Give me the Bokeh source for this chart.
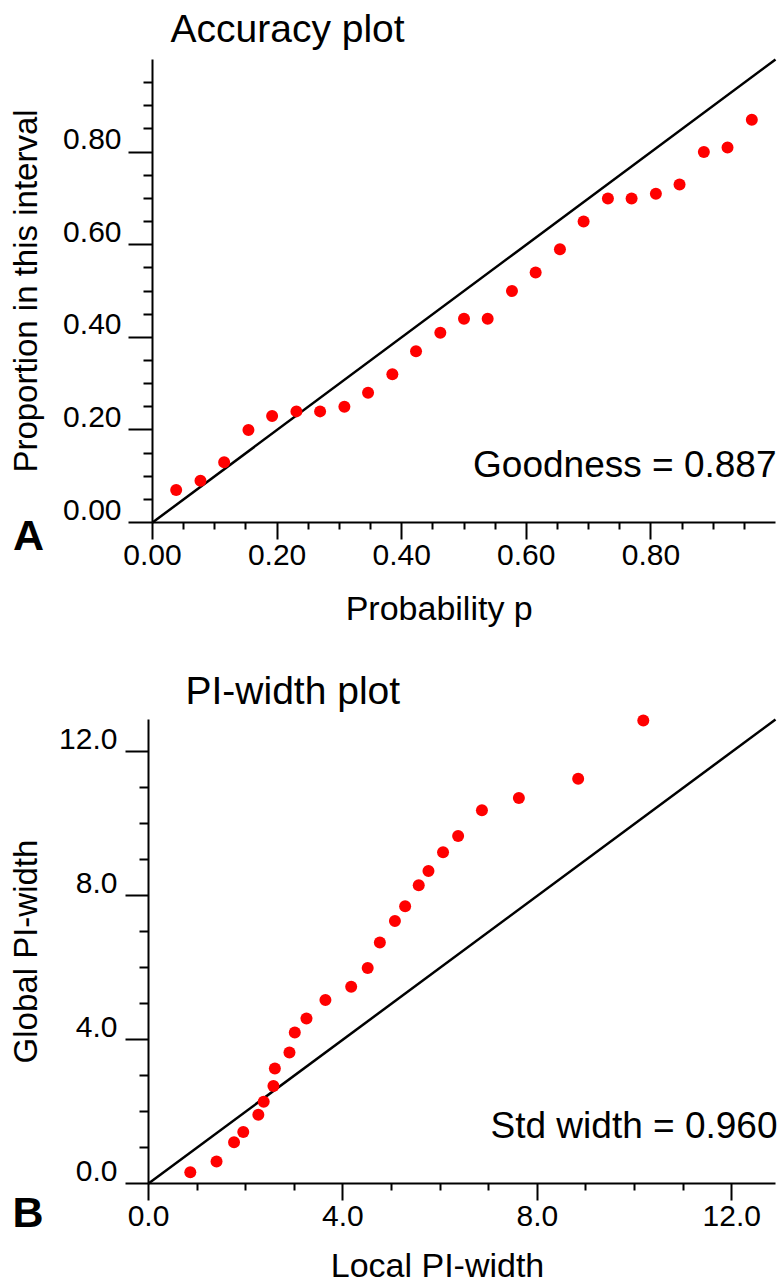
import math
from bokeh.plotting import figure
from bokeh.layouts import column
from bokeh.models import (Range1d, FixedTicker, NumeralTickFormatter, Label, LinearAxis,
                          LabelSet, ColumnDataSource, CustomJSTickFormatter)
from bokeh.core.properties import value
from bokeh.embed import file_html
from bokeh.resources import INLINE

FONT = "Liberation Sans"

# ---------------- Panel A : Accuracy plot ----------------
prob_p = [0.038, 0.077, 0.115, 0.154, 0.192, 0.231, 0.269, 0.308, 0.346, 0.385,
          0.423, 0.462, 0.500, 0.538, 0.577, 0.615, 0.654, 0.692, 0.731, 0.769,
          0.808, 0.846, 0.885, 0.923, 0.962]
proportion = [0.07, 0.09, 0.13, 0.20, 0.23, 0.24, 0.24, 0.25, 0.28, 0.32,
              0.37, 0.41, 0.44, 0.44, 0.50, 0.54, 0.59, 0.65, 0.70, 0.70,
              0.71, 0.73, 0.80, 0.81, 0.87]
acc_limit = 1.0
acc_major = [0.0, 0.2, 0.4, 0.6, 0.8]
acc_minor = [0.05, 0.1, 0.15, 0.25, 0.3, 0.35, 0.45, 0.5, 0.55, 0.65, 0.7, 0.75,
             0.85, 0.9, 0.95]
acc_ylabels = ["0.00", "0.20", "0.40", "0.60", "0.80"]
acc_title = "Accuracy plot"
acc_xlabel = "Probability p"
acc_ylabel = "Proportion in this interval"
acc_stat = "Goodness = 0.887"

# ---------------- Panel B : PI-width plot ----------------
local_w = [0.86, 1.40, 1.76, 1.95, 2.26, 2.37, 2.57, 2.60, 2.90, 3.01,
           3.25, 3.64, 4.17, 4.51, 4.76, 5.07, 5.28, 5.56, 5.76, 6.06,
           6.37, 6.86, 7.62, 8.84, 10.18]
global_w = [0.31, 0.61, 1.15, 1.43, 1.91, 2.27, 2.71, 3.20, 3.64, 4.20,
            4.59, 5.10, 5.47, 5.99, 6.70, 7.30, 7.71, 8.29, 8.69, 9.21,
            9.66, 10.38, 10.72, 11.25, 12.87]
piw_limit = 12.9
piw_major = [0.0, 4.0, 8.0, 12.0]
piw_minor = [1.0, 2.0, 3.0, 5.0, 6.0, 7.0, 9.0, 10.0, 11.0]
piw_ylabels = ["0.0", "4.0", "8.0", "12.0"]
piw_title = "PI-width plot"
piw_xlabel = "Local PI-width"
piw_ylabel = "Global PI-width"
piw_stat = "Std width = 0.960"

W = 783
MID = 0.3465  # distance (in em) from alphabetic baseline up to the text-box middle
YLAB_RAISE = 3  # px the y tick labels are lifted so their base sits on the tick


def make_panel(xs, ys, limit, major, minor, ylabels, fmt, height, geom, pos, letter,
               title, xlabel, ylabel, stat, ytick_len):
    # geom: pixel position of data origin and pixels per data unit (figure-local)
    x0, xs_px, y0, ys_px = geom

    def dx(px):
        return (px - x0) / xs_px

    def dy(py):
        return (y0 - py) / ys_px

    p = figure(width=W, height=height, output_backend="svg", toolbar_location=None,
               x_range=Range1d(dx(0), dx(W)), y_range=Range1d(dy(height), dy(0)),
               x_axis_location=None, y_axis_location=None, title=None,
               min_border=0)
    p.outline_line_color = None
    p.grid.visible = False
    p.background_fill_color = "white"
    p.border_fill_color = "white"

    xa = LinearAxis(fixed_location=0, bounds=(0, limit))
    ya = LinearAxis(fixed_location=0, bounds=(0, limit))
    for ax in (xa, ya):
        ax.ticker = FixedTicker(ticks=major, minor_ticks=minor)
        ax.axis_line_width = 2
        ax.axis_line_color = "black"
        ax.major_tick_line_width = 2
        ax.minor_tick_line_width = 2
        ax.major_tick_line_color = "black"
        ax.minor_tick_line_color = "black"
        ax.major_tick_in = 0
        ax.minor_tick_in = 0

    xa.formatter = NumeralTickFormatter(format=fmt)
    xa.major_tick_out = 17
    xa.minor_tick_out = 7
    xa.major_label_text_font = FONT
    xa.major_label_text_font_size = "30px"
    xa.major_label_text_color = "black"
    xa.major_label_standoff = 5

    ya.formatter = CustomJSTickFormatter(code="return ''")
    ya.major_tick_out = ytick_len
    ya.minor_tick_out = 9
    p.add_layout(xa, "below")
    p.add_layout(ya, "left")

    # y tick labels: base sits on the tick, right-aligned left of the tick
    lift = YLAB_RAISE / ys_px
    src = ColumnDataSource(dict(x=[0.0] * len(major), y=[t + lift for t in major],
                                text=ylabels))
    p.add_layout(LabelSet(x="x", y="y", text="text", source=src, x_offset=-31,
                          text_align="right", text_baseline="alphabetic",
                          text_font=value(FONT), text_font_size=value("30px"),
                          text_color="black"))

    # identity reference line y = x over the axis extent
    p.line([0, limit], [0, limit], line_color="black", line_width=2.5)

    # points
    p.scatter(xs, ys, size=12, fill_color="#ff0000", line_color=None)

    def lab(text, px, py, size, align, rotated=False, style="normal"):
        # px, py give the alphabetic baseline position; anchor the text-box middle
        if rotated:
            px = px - MID * size
        else:
            py = py - MID * size
        p.add_layout(Label(x=dx(px), y=dy(py), text=text, text_font=FONT,
                           text_font_size=f"{size}px", text_align=align,
                           angle=math.pi / 2 if rotated else 0.0,
                           text_font_style=style, text_baseline="middle",
                           text_color="black"))

    lab(title, pos["title"][0], pos["title"][1], 39, "left")
    lab(xlabel, pos["xlabel"][0], pos["xlabel"][1], 34, "center")
    lab(ylabel, pos["ylabel"][0], pos["ylabel"][1], 33, "center", rotated=True)
    lab(stat, pos["stat"][0], pos["stat"][1], 37, "right")
    lab(letter, pos["letter"][0], pos["letter"][1], 43, "left", style="bold")
    return p


pa = make_panel(prob_p, proportion, acc_limit, acc_major, acc_minor, acc_ylabels, "0.00",
                640, (152, 623, 522, 463),
                dict(title=(170, 41.7), xlabel=(438.7, 619.3), ylabel=(36, 290.5),
                     stat=(776, 477.3), letter=(12.5, 549)),
                "A", acc_title, acc_xlabel, acc_ylabel, acc_stat, 24)

pb = make_panel(local_w, global_w, piw_limit, piw_major, piw_minor, piw_ylabels, "0.0",
                644, (148, 48.605, 543, 35.969),
                dict(title=(185, 63.3), xlabel=(437, 636.5), ylabel=(36, 311),
                     stat=(777, 498.3), letter=(12, 586)),
                "B", piw_title, piw_xlabel, piw_ylabel, piw_stat, 23)

layout = column(pa, pb, spacing=0)
open("out.html", "w").write(file_html(layout, INLINE))
